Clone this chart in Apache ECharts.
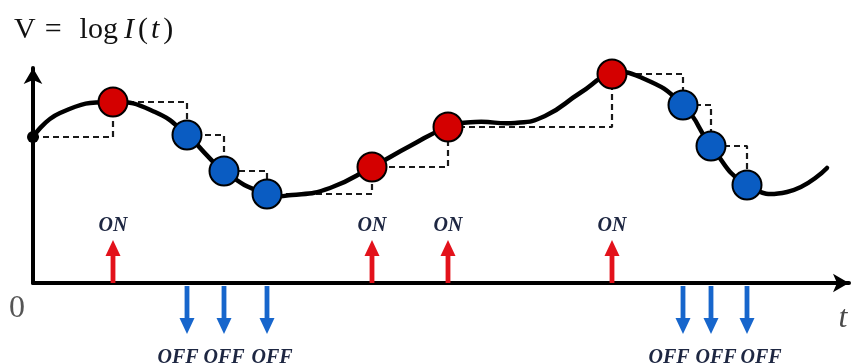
<!DOCTYPE html>
<html><head><meta charset="utf-8">
<script src="https://cdn.jsdelivr.net/npm/echarts@6/dist/echarts.min.js"></script>
<style>html,body{margin:0;padding:0;background:#fff}#c{width:857px;height:363px}</style>
</head><body><div id="c"></div>
<script>
// ---- data (t along time axis, V = log I(t)) ----
const curveT = [0, 27, 80, 122, 154, 191, 234, 259, 297, 339, 377, 415, 442, 482, 512, 547, 579, 607, 650, 678, 714, 754, 794];
const curveV = [146, 170, 181, 171, 148, 112, 89, 88, 95, 116, 137, 156, 161, 160, 167, 190, 209, 206, 178, 137, 98, 91, 115];
const startT = [0];
const startV = [146];
const onT = [80, 339, 415, 579];          // red samples / ON events
const onV = [181, 116, 156, 209];
const offT = [154, 191, 234, 650, 678, 714]; // blue samples / OFF events
const offV = [148, 112, 89, 178, 137, 98];
const offLabelT = [145, 191, 239, 636, 683, 728];
const onLabel = 'ON';
const offLabel = 'OFF';
const xMax = 816, yMax = 215;
const originTick = [0];

// ---- build series data ----
const curve = curveT.map((t, i) => [t, curveV[i]]);
const startPt = startT.map((t, i) => [t, startV[i]]);
const redPts = onT.map((t, i) => [t, onV[i]]);
const bluePts = offT.map((t, i) => [t, offV[i]]);
const samples = startPt.concat(redPts, bluePts).sort((a, b) => a[0] - b[0]);
const offData = offT.map((t, i) => [t, offLabelT[i]]);

const serif = 'Liberation Serif';
const txtCol = '#1e2742';

function arrow(dir, color, label, len, startGap, labelOff) {
  return function (params, api) {
    const p = api.coord([api.value(0), 0]);
    const x = p[0], y0 = p[1] + startGap;
    const tip = y0 + dir * len;
    const headLen = 16, headW = 7.5, shaftW = 2.4;
    const hb = tip - dir * headLen;
    const lx = api.coord([api.value(1), 0])[0];
    return {
      type: 'group',
      children: [
        { type: 'polygon', shape: { points: [[x - shaftW, y0], [x + shaftW, y0], [x + shaftW, hb], [x + headW, hb], [x, tip], [x - headW, hb], [x - shaftW, hb]] }, style: { fill: color } },
        { type: 'text', x: lx, y: p[1] + labelOff, style: { text: label, font: 'italic bold 20px "' + serif + '"', fill: txtCol, align: 'center', verticalAlign: 'middle' } }
      ]
    };
  };
}

function curveItem(params, api) {
  if (params.dataIndex !== 0) return null;
  const pts = curve.map(d => api.coord(d));
  return { type: 'polyline', shape: { points: pts, smooth: 0.5 }, style: { stroke: '#000', lineWidth: 4.5, fill: null, lineCap: 'round', lineJoin: 'round' } };
}

const base = { fontFamily: serif, fontSize: 30, color: '#111', fontWeight: 'normal' };
const chart = echarts.init(document.getElementById('c'), null, { renderer: 'canvas' });
chart.setOption({
  animation: false,
  backgroundColor: '#fff',
  title: {
    left: 9, top: 10,
    text: '{u|V}{eq|=}{lg|log}{i|I}{p|(}{i|t}{p|)}',
    textStyle: {
      fontWeight: 'normal',
      rich: {
        u: Object.assign({}, base),
        eq: Object.assign({ padding: [0, 18, 0, 9] }, base),
        lg: Object.assign({ padding: [0, 6, 0, 0] }, base),
        i: Object.assign({ fontStyle: 'italic' }, base),
        p: Object.assign({ padding: [0, 3, 0, 4] }, base)
      }
    }
  },
  grid: { left: 33, right: 8, top: 68, bottom: 80, outerBoundsMode: 'none' },
  xAxis: {
    type: 'value', min: 0, max: xMax,
    name: 't', nameLocation: 'end', nameGap: -6,
    nameTextStyle: { fontFamily: serif, fontStyle: 'italic', fontSize: 32, color: '#4a4a4a', align: 'center', verticalAlign: 'top', padding: [20, 0, 0, 0] },
    axisLine: { show: true, onZero: false, symbol: ['none', 'arrow'], symbolSize: [14, 16], lineStyle: { color: '#000', width: 4, cap: 'round' } },
    axisTick: { show: false },
    splitLine: { show: false },
    axisLabel: { show: true, customValues: originTick, fontFamily: serif, fontSize: 32, color: '#555', align: 'right', margin: 10, padding: [0, 8, 0, 0] }
  },
  yAxis: {
    type: 'value', min: 0, max: yMax,
    axisLine: { show: true, onZero: false, symbol: ['none', 'arrow'], symbolSize: [14, 16], lineStyle: { color: '#000', width: 4, cap: 'round' } },
    axisTick: { show: false },
    splitLine: { show: false },
    axisLabel: { show: false }
  },
  series: [
    { type: 'line', data: samples, step: 'end', symbol: 'none', silent: true, z: 1,
      lineStyle: { color: '#1a1a1a', width: 2.2, type: [6, 4] } },
    { type: 'custom', data: curve, clip: false, silent: true, z: 2, renderItem: curveItem },
    { type: 'scatter', data: startPt, symbolSize: 12, z: 3, itemStyle: { color: '#000', opacity: 1 } },
    { type: 'scatter', data: redPts, symbolSize: 29, z: 4, itemStyle: { color: '#d40000', borderColor: '#000', borderWidth: 2, opacity: 1 } },
    { type: 'scatter', data: bluePts, symbolSize: 29, z: 4, itemStyle: { color: '#0a5cc2', borderColor: '#000', borderWidth: 2, opacity: 1 } },
    { type: 'custom', data: onT.map(t => [t, t]), clip: false, z: 5, renderItem: arrow(-1, '#e3121b', onLabel, 43, 0, -57) },
    { type: 'custom', data: offData, clip: false, z: 5, renderItem: arrow(1, '#1766cc', offLabel, 48, 3, 75) }
  ]
});
</script>
</body></html>
